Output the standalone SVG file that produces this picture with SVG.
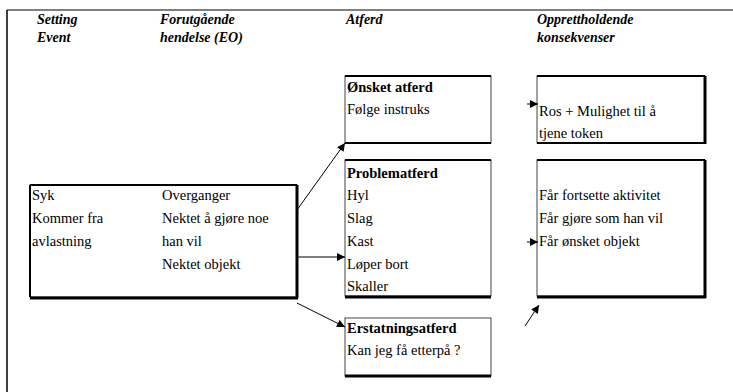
<svg xmlns="http://www.w3.org/2000/svg" width="733" height="392" viewBox="0 0 733 392">
<defs>
<marker id="ah" viewBox="0 0 10 10" refX="10" refY="5" markerWidth="10" markerHeight="8" markerUnits="userSpaceOnUse" orient="auto"><path d="M0,0 L10,5 L0,10 Z" fill="#000"/></marker>
</defs>
<rect width="733" height="392" fill="#fff"/>
<g id="frame" stroke="#000">
<line x1="7" y1="10" x2="733" y2="10" stroke-width="1.2"/>
<line x1="7" y1="10" x2="7" y2="392" stroke-width="1.5"/>
</g>
<g id="headers">
<text x="37" y="24" style="font-family:'Liberation Serif',serif !important;font-weight:bold;font-style:italic;font-size:14px">Setting</text>
<text x="37" y="42" style="font-family:'Liberation Serif',serif !important;font-weight:bold;font-style:italic;font-size:14px">Event</text>
<text x="160" y="24" style="font-family:'Liberation Serif',serif !important;font-weight:bold;font-style:italic;font-size:14px">Forutgående</text>
<text x="160" y="42" style="font-family:'Liberation Serif',serif !important;font-weight:bold;font-style:italic;font-size:14px">hendelse (EO)</text>
<text x="346" y="24" style="font-family:'Liberation Serif',serif !important;font-weight:bold;font-style:italic;font-size:14px">Atferd</text>
<text x="537" y="24" style="font-family:'Liberation Serif',serif !important;font-weight:bold;font-style:italic;font-size:14px">Opprettholdende</text>
<text x="537" y="42" style="font-family:'Liberation Serif',serif !important;font-weight:bold;font-style:italic;font-size:14px">konsekvenser</text>
</g>
<g id="setting-box">
<rect x="30" y="185" width="267" height="112" fill="#fff" stroke="#444"/>
<path d="M30,185 H297 M30,185 V297" stroke="#000" stroke-width="2" fill="none"/>
<path d="M297,185 V298 M30,298 H298" stroke="#000" stroke-width="3" fill="none"/>
<text x="32" y="200" style="font-family:'Liberation Serif',serif !important;font-size:14.5px">Syk</text>
<text x="32" y="223" style="font-family:'Liberation Serif',serif !important;font-size:14.5px">Kommer fra</text>
<text x="32" y="246" style="font-family:'Liberation Serif',serif !important;font-size:14.5px">avlastning</text>
<text x="162" y="200" style="font-family:'Liberation Serif',serif !important;font-size:14.5px">Overganger</text>
<text x="162" y="223" style="font-family:'Liberation Serif',serif !important;font-size:14.5px">Nektet å gjøre noe</text>
<text x="162" y="246" style="font-family:'Liberation Serif',serif !important;font-size:14.5px">han vil</text>
<text x="162" y="269" style="font-family:'Liberation Serif',serif !important;font-size:14.5px">Nektet objekt</text>
</g>
<g id="onsket">
<rect x="345" y="76" width="146" height="67" fill="#fff" stroke="#444"/>
<path d="M345,76 H491 M345,143 H491" stroke="#000" stroke-width="2" fill="none"/>
<text x="347" y="92" style="font-family:'Liberation Serif',serif !important;font-size:14.5px;font-weight:bold">Ønsket atferd</text>
<text x="347" y="114" style="font-family:'Liberation Serif',serif !important;font-size:14.5px">Følge instruks</text>
</g>
<g id="ros">
<rect x="537" y="76" width="168" height="67" fill="#fff" stroke="#444"/>
<path d="M537,76 H705 M537,143 H706" stroke="#000" stroke-width="2" fill="none"/>
<path d="M705,76 V144" stroke="#000" stroke-width="3" fill="none"/>
<text x="539" y="116" style="font-family:'Liberation Serif',serif !important;font-size:14.5px">Ros + Mulighet til å</text>
<text x="539" y="138" style="font-family:'Liberation Serif',serif !important;font-size:14.5px">tjene token</text>
</g>
<g id="problem">
<rect x="345" y="160" width="146" height="136" fill="#fff" stroke="#444"/>
<path d="M345,160 H491" stroke="#000" stroke-width="2" fill="none"/>
<path d="M345,297 H491" stroke="#000" stroke-width="3" fill="none"/>
<text x="347" y="178" style="font-family:'Liberation Serif',serif !important;font-size:14.5px;font-weight:bold">Problematferd</text>
<text x="347" y="200" style="font-family:'Liberation Serif',serif !important;font-size:14.5px">Hyl</text>
<text x="347" y="223" style="font-family:'Liberation Serif',serif !important;font-size:14.5px">Slag</text>
<text x="347" y="246" style="font-family:'Liberation Serif',serif !important;font-size:14.5px">Kast</text>
<text x="347" y="269" style="font-family:'Liberation Serif',serif !important;font-size:14.5px">Løper bort</text>
<text x="347" y="291" style="font-family:'Liberation Serif',serif !important;font-size:14.5px">Skaller</text>
</g>
<g id="far">
<rect x="537" y="160" width="168" height="136" fill="#fff" stroke="#444"/>
<path d="M537,160 H705" stroke="#000" stroke-width="2" fill="none"/>
<path d="M705,160 V298 M537,297 H706" stroke="#000" stroke-width="3" fill="none"/>
<text x="539" y="200" style="font-family:'Liberation Serif',serif !important;font-size:14.5px">Får fortsette aktivitet</text>
<text x="539" y="223" style="font-family:'Liberation Serif',serif !important;font-size:14.5px">Får gjøre som han vil</text>
<text x="539" y="246" style="font-family:'Liberation Serif',serif !important;font-size:14.5px">Får ønsket objekt</text>
</g>
<g id="erstatning">
<rect x="345" y="318" width="146" height="58" fill="#fff" stroke="#444"/>
<path d="M345,376 H491" stroke="#000" stroke-width="3" fill="none"/>
<text x="347" y="333" style="font-family:'Liberation Serif',serif !important;font-size:14.5px;font-weight:bold">Erstatningsatferd</text>
<text x="347" y="355" style="font-family:'Liberation Serif',serif !important;font-size:14.5px">Kan jeg få etterpå ?</text>
</g>
<g id="connectors" stroke="#000" stroke-width="1" fill="none">
<line x1="297" y1="210" x2="345" y2="143" marker-end="url(#ah)"/>
<line x1="298" y1="257" x2="345" y2="257" marker-end="url(#ah)"/>
<line x1="297" y1="303" x2="345" y2="327" marker-end="url(#ah)"/>
<line x1="527" y1="104" x2="538" y2="104" marker-end="url(#ah)"/>
<line x1="527" y1="242" x2="538" y2="242" marker-end="url(#ah)"/>
<line x1="525" y1="326" x2="539" y2="305" marker-end="url(#ah)"/>
</g>
</svg>
